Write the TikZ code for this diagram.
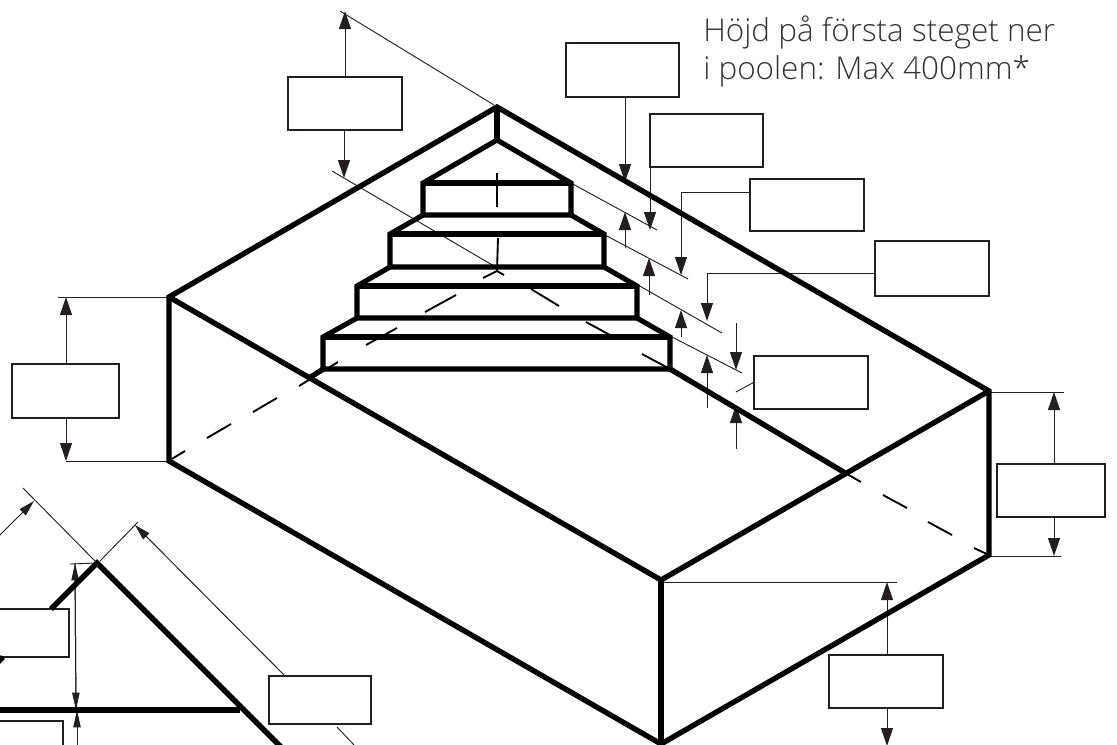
\documentclass[tikz,border=0pt]{standalone}
\usepackage{fontspec}
\setmainfont{Open Sans Light}
\usetikzlibrary{arrows.meta}
\definecolor{ink}{HTML}{231F20}
\tikzset{
  thickline/.style={draw=black,line width=4pt,line join=miter,line cap=butt},
  stairline/.style={draw=black,line width=3.8pt,line join=miter,line cap=butt},
  hidden/.style={draw=black,line width=1.4pt},
  thinline/.style={draw=ink,line width=0.7pt},
  dimarrow/.style={draw=ink,line width=0.75pt,-{Triangle[length=13.5pt,width=9pt]}},
  smallarrow/.style={draw=ink,line width=0.75pt,-{Triangle[length=13pt,width=5.5pt]}},
  dimbox/.style={draw=ink,line width=0.85pt,fill=white,inner sep=0pt,rectangle},
  caption/.style={anchor=base west,inner sep=0pt,text=black!80,font=\fontsize{23.6pt}{28pt}\selectfont}
}
\begin{document}
\begin{tikzpicture}[x=0.75pt,y=-0.75pt]
\clip (0,0) rectangle (1117,744);
% corners of the pool
\coordinate (A) at (497,107);
\coordinate (B) at (169,297);
\coordinate (C) at (989,391);
\coordinate (D) at (661,580);
\coordinate (E) at (169,461);
\coordinate (F) at (989,555);
\coordinate (G) at (661,744);
\coordinate (H) at (497,271);
% stairs
\coordinate (S0) at (497,140);
\coordinate (S1l) at (423,183); \coordinate (S1r) at (571,183);
\coordinate (S1bl) at (423,215); \coordinate (S1br) at (571,215);
\coordinate (S2l) at (390,234); \coordinate (S2r) at (604,234);
\coordinate (S2bl) at (390,267); \coordinate (S2br) at (604,267);
\coordinate (S3l) at (357,286); \coordinate (S3r) at (637,286);
\coordinate (S3bl) at (357,318); \coordinate (S3br) at (637,318);
\coordinate (S4l) at (323,337); \coordinate (S4r) at (670,337);
\coordinate (S4bl) at (323,369); \coordinate (S4br) at (670,369);
\coordinate (Sfoot) at (309,378);
\coordinate (X) at (847,474);
% extension lines
\coordinate (e1a) at (340,11);  \coordinate (e1b) at (494,105);
\coordinate (e2a) at (332,171); \coordinate (e2b) at (494,266);
\coordinate (e3b) at (657,230);
\coordinate (e4a) at (605,235); \coordinate (e4b) at (688,279);
\coordinate (e5a) at (638,285); \coordinate (e5b) at (722,333);
\coordinate (e6a) at (672,337); \coordinate (e6b) at (742,373);
% arrow tips and free ends
\coordinate (t1u) at (345,11);  \coordinate (t1d) at (344,178);
\coordinate (t2d) at (625,182); \coordinate (t2u) at (625,212); \coordinate (f2) at (625,248);
\coordinate (t3d) at (650,230); \coordinate (t3u) at (649,258); \coordinate (f3) at (649,295);
\coordinate (c4) at (681,192);  \coordinate (t4d) at (681,275); \coordinate (t4u) at (681,310); \coordinate (f4) at (681,337);
\coordinate (c5) at (707,273);  \coordinate (t5d) at (707,321); \coordinate (t5u) at (707,355); \coordinate (f5) at (707,408);
\coordinate (c6) at (736,392);  \coordinate (s6) at (736,323);  \coordinate (t6d) at (736,370); \coordinate (t6u) at (736,405); \coordinate (f6) at (736,449);
\coordinate (t7u) at (1054,392); \coordinate (t7d) at (1054,556);
\coordinate (e7a) at (1064,392); \coordinate (e7b) at (1061,556);
\coordinate (t8u) at (887,582); \coordinate (t8d) at (887,746); \coordinate (e8) at (897,582);
\coordinate (t9u) at (66,297); \coordinate (t9d) at (66,461); \coordinate (e9) at (58,297);
% thin extension lines
\draw[thinline] (e1a) -- (e1b);
\draw[thinline] (e2a) -- (e2b);
\draw[thinline] (S1r) -- (e3b);
\draw[thinline] (e4a) -- (e4b);
\draw[thinline] (e5a) -- (e5b);
\draw[thinline] (e6a) -- (e6b);
\draw[thinline] (C |- e7a) -- (e7a);
\draw[thinline] (F |- e7b) -- (e7b);
\draw[thinline] (D |- e8) -- (e8);
\draw[thinline] (B) -- (e9);
\draw[thinline] (E) -- (t9d);
% boxes
\node[dimbox,minimum width=85.5pt,minimum height=39.75pt] (b1) at (345,103.5) {};
\node[dimbox,minimum width=84.75pt,minimum height=40.5pt] (b2) at (622.5,70) {};
\node[dimbox,minimum width=84.75pt,minimum height=39.75pt] (b3) at (706.5,140.5) {};
\node[dimbox,minimum width=85.5pt,minimum height=39pt] (b4) at (807,205) {};
\node[dimbox,minimum width=85.5pt,minimum height=41.25pt] (b5) at (932,268.5) {};
\node[dimbox,minimum width=85.5pt,minimum height=39.75pt] (b6) at (811,382.5) {};
\node[dimbox,minimum width=81pt,minimum height=39.75pt] (b7) at (1051,490.5) {};
\node[dimbox,minimum width=85.5pt,minimum height=39.75pt] (b8) at (886,681.5) {};
\node[dimbox,minimum width=80.25pt,minimum height=40.5pt] (b9) at (65.5,391) {};
\node[dimbox,minimum width=76.5pt,minimum height=36pt] (b10) at (320,700) {};
\node[dimbox,minimum width=85.5pt,minimum height=36pt] (b11) at (12,633) {};
\node[dimbox,minimum width=85.5pt,minimum height=39.75pt] (b12) at (6,747.5) {};
% dimension arrows
\draw[dimarrow] (b1.north) -- (t1u);
\draw[dimarrow] (t1d |- b1.south) -- (t1d);
\draw[dimarrow] (t2d |- b2.south) -- (t2d);
\draw[dimarrow] (f2) -- (t2u);
\draw[dimarrow] (t3d |- b3.south) -- (t3d);
\draw[dimarrow] (f3) -- (t3u);
\draw[thinline] (b4.west |- c4) -- (c4);
\draw[dimarrow] (c4) -- (t4d);
\draw[dimarrow] (f4) -- (t4u);
\draw[thinline] (b5.west |- c5) -- (c5);
\draw[dimarrow] (c5) -- (t5d);
\draw[dimarrow] (f5) -- (t5u);
\draw[thinline] (b6.west) -- (c6);
\draw[dimarrow] (s6) -- (t6d);
\draw[dimarrow] (f6) -- (t6u);
\draw[dimarrow] (t7u |- b7.north) -- (t7u);
\draw[dimarrow] (t7d |- b7.south) -- (t7d);
\draw[dimarrow] (t8u |- b8.north) -- (t8u);
\draw[dimarrow] (t8d |- b8.south) -- (t8d);
\draw[dimarrow] (t9u |- b9.north) -- (t9u);
\draw[dimarrow] (t9d |- b9.south) -- (t9d);
% pool: hidden edges
\draw[hidden] (170,460) -- (185,451) (207,438) -- (231,424) (253,412) -- (277,398)
  (299,386) -- (338,362) (366,345) -- (397,328) (425,312) -- (456,295) (483,278) -- (H);
\draw[hidden] (H) -- (504,275) (531,289) -- (559,306) (586,322) -- (610,335) (642,354) -- (S4br);
\draw[hidden] (X) -- (861,482) (883,495) -- (907,508) (928,522) -- (952,535) (974,548) -- (F);
\draw[hidden] (497,173) -- (497,207) (498,238) -- (H);
% pool: outline
\draw[thickline] (A) -- (B) -- (E) -- (G) -- (F) -- (C) -- cycle;
\draw[thickline] (B) -- (D) -- (C);
\draw[thickline] (D) -- (G);
\draw[thickline] (A) -- (S0);
\draw[thickline] (S4br) -- (X);
% stairs outline
\draw[stairline] (S1l) -- (S0) -- (S1r) -- (S1br) -- (S1bl) -- cycle;
\draw[stairline] (S1l) -- (S1r);
\draw[stairline] (S1bl) -- (S2l) -- (S2bl) -- (S2br) -- (S2r) -- (S1br);
\draw[stairline] (S2l) -- (S2r);
\draw[stairline] (S2bl) -- (S3l) -- (S3bl) -- (S3br) -- (S3r) -- (S2br);
\draw[stairline] (S3l) -- (S3r);
\draw[stairline] (S3bl) -- (S4l) -- (S4bl) -- (S4br) -- (S4r) -- (S3br);
\draw[stairline] (S4l) -- (S4r);
\draw[stairline] (S4bl) -- (Sfoot);
% inset: section
\coordinate (P) at (97,563);
\coordinate (Pl) at (51,609);
\coordinate (Pr) at (283,749);
\coordinate (Q) at (240,710);
\coordinate (Ql) at (-5,710);
\coordinate (st1) at (-3,663);
\coordinate (st2) at (3,657);
\coordinate (i1a) at (23,488);
\coordinate (i1b) at (95,561);
\coordinate (i2a) at (100,561);
\coordinate (i2b) at (138,522);
\coordinate (i3) at (70,564);
\coordinate (v1) at (75,563);
\coordinate (v2) at (76,710);
\coordinate (v3) at (77,710);
\coordinate (v4) at (77,746);
\coordinate (a1s) at (-3,538);
\coordinate (a1t) at (34,501);
\coordinate (a2t) at (135,525);
\coordinate (o1) at (337,727);
\coordinate (o2) at (355,746);
\draw[thinline] (i1a) -- (i1b);
\draw[thinline] (i2a) -- (i2b);
\draw[thinline] (i3) -- (P);
\draw[dimarrow,-{Triangle[length=12pt,width=6.5pt]}] (a1s) -- (a1t);
\draw[dimarrow,-{Triangle[length=12pt,width=6.5pt]}] (285,676) -- (a2t);
\draw[smallarrow] (v2) -- (v1);
\draw[smallarrow] (v1) -- (v2);
\draw[smallarrow] (v4) -- (v3);
\draw[thinline] (o1) -- (o2);
\draw[thickline] (Pl) -- (P) -- (Pr);
\draw[thickline] (Ql) -- (Q);
\draw[thickline] (st1) -- (st2);
% caption
\node[caption] (cap1) at (703,41) {Höjd på första steget ner};
\node[caption] (cap2) at (703,79) {i poolen: Max 400mm*};
\end{tikzpicture}
\end{document}
